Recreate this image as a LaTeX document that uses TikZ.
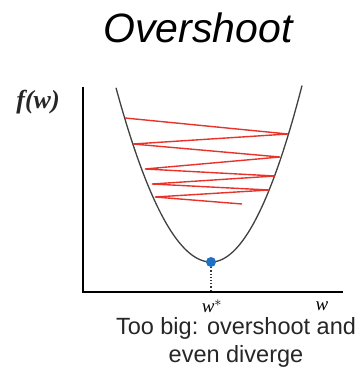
\documentclass[tikz,border=0pt]{standalone}
\usepackage{fontspec}
\setmainfont{Liberation Sans}
\newfontfamily\serifw{Liberation Serif}
\definecolor{zigred}{HTML}{E8322A}
\definecolor{dotblue}{HTML}{1F6FC5}
\definecolor{captgray}{HTML}{262626}
\begin{document}
\begin{tikzpicture}[x=1pt, y=-1pt,
    axisline/.style={line width=2.6pt, black},
    zig/.style={line width=1.4pt, zigred},
    lbl/.style={inner sep=0pt}]
    \useasboundingbox (0,0) rectangle (360,385);
    % title
    \node[lbl, font=\fontsize{41}{45}\selectfont\itshape] (title) at (198,28) {Overshoot};
    % axes
    \coordinate (origin) at (83,292);
    \draw[axisline] (83,87) -- (origin) -- (343,292);
    \node[lbl, font=\serifw\fontsize{26}{28}\selectfont\itshape\bfseries, text=black!85] (fw) at (38,102) {f(w)};
    % loss curve
    \draw[line width=1.3pt, black!75, domain=-95:0, samples=60, smooth] plot ({211+\x},{262-0.0193*\x*\x});
    \draw[line width=1.3pt, black!75, domain=0:91, samples=60, smooth] plot ({211+\x},{262-0.0213*\x*\x});
    % zigzag steps
    \coordinate (z0) at (125,118);
    \coordinate (z1) at (288,134);
    \coordinate (z2) at (133,144);
    \coordinate (z3) at (280,157);
    \coordinate (z4) at (145,169);
    \coordinate (z5) at (275,176);
    \coordinate (z6) at (152,184);
    \coordinate (z7) at (269,190);
    \coordinate (z8) at (155,197);
    \coordinate (z9) at (242,204);
    \draw[zig] (z0) -- (z1) -- (z2) -- (z3) -- (z4) -- (z5) -- (z6) -- (z7) -- (z8) -- (z9);
    % minimum
    \node[circle, fill=dotblue, inner sep=0pt, minimum size=10pt] (wmin) at (211,262) {};
    \coordinate (wfoot) at (211,291);
    \draw[dotted, line width=1.2pt, black!80] (wmin) -- (wfoot);
    \node[lbl, font=\serifw\fontsize{19}{21}\selectfont\itshape] (wstar) at (212,306) {w$^{*}$};
    \node[lbl, font=\serifw\fontsize{19}{21}\selectfont\itshape] (wlab) at (322,306) {w};
    % caption
    \node[lbl, font=\fontsize{23.5}{28}\selectfont, text=captgray, align=center] (capt) at (236,342) {Too big: overshoot and\\even diverge};
\end{tikzpicture}
\end{document}
